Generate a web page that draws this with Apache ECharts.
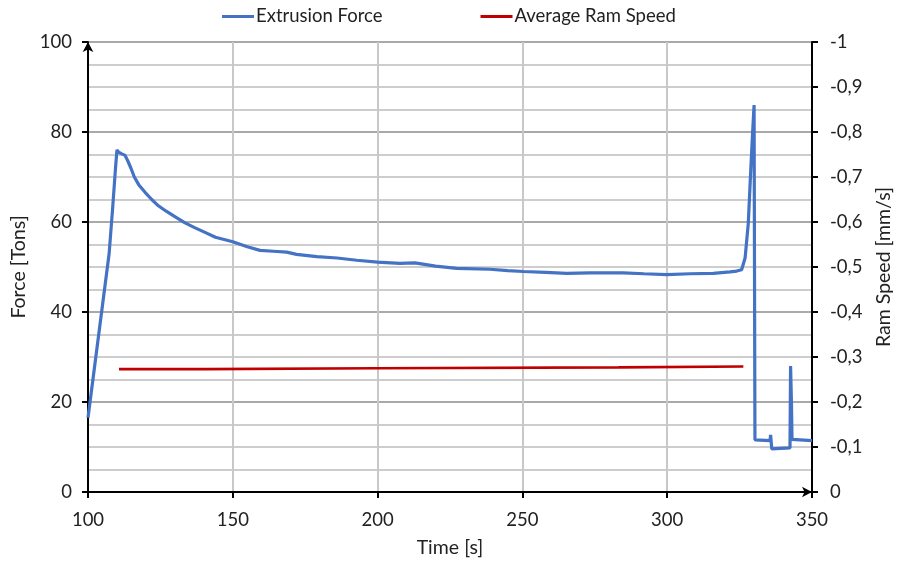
<!DOCTYPE html>
<html>
<head>
<meta charset="utf-8">
<script src="https://cdn.jsdelivr.net/npm/echarts@6/dist/echarts.min.js"></script>
<style>
  html, body { margin: 0; padding: 0; background: #fff; }
  #chart { width: 897px; height: 567px; }
</style>
</head>
<body>
<div id="chart"></div>
<script>
// Extrusion force over time [s, Tons]
const forceTime = [
  100, 102, 104, 106, 107.3, 108.5, 109.5, 110.0, 110.6, 111.5, 112.8, 113.8, 114.8, 116,
  117.5, 119.7, 122, 124.3, 127, 130, 133.5, 137, 140.4, 144, 150, 155, 159.4, 164,
  168.6, 172, 179, 186, 192.8, 200, 207.7, 212.9, 220, 227.3, 238.8, 245, 250.3, 258,
  265.3, 273.3, 284.8, 292, 299.8, 308, 315.9, 321.7, 324, 325.7, 326.9, 328, 328.8,
  329.5, 330.0, 330.3, 335.5, 335.7, 335.8, 336.1, 342.4, 342.6, 342.9, 343.1, 350
];
const force = [
  16.5, 26.5, 36.5, 46.5, 53, 63, 72, 76.0, 75.5, 75.2, 74.8, 73.5, 72, 70,
  68.3, 66.6, 65, 63.6, 62.4, 61.2, 59.8, 58.7, 57.7, 56.6, 55.6, 54.5, 53.7, 53.5,
  53.3, 52.8, 52.3, 52, 51.5, 51.1, 50.8, 50.9, 50.2, 49.7, 49.5, 49.2, 49.0, 48.8,
  48.6, 48.7, 48.7, 48.5, 48.3, 48.5, 48.6, 48.9, 49.1, 49.4, 52, 59.7, 70.8,
  80, 86, 11.6, 11.4, 12.7, 12.0, 9.6, 9.8, 28, 20, 11.7, 11.4
];

// Average ram speed per stroke segment [s, mm/s]
const speedTime = [110.7, 140.4, 140.4, 199.7, 199.7, 283.2, 283.2, 326.3];
const speed = [-0.273, -0.273, -0.275, -0.275, -0.277, -0.277, -0.279, -0.279];

// Axis ticks
const timeTicks = { min: 100, max: 350, step: 50 };
const forceTicks = { min: 0, max: 100, step: 20 };
const speedTicks = { min: -1, max: 0, step: 0.1 };

const FONT = 'Lato';
const TEXT = '#222';
const LABEL_SIZE = 18.5;
const NAME_SIZE = 19.5;

const zip = (xs, ys) => xs.map((x, i) => [x, ys[i]]);

const chart = echarts.init(document.getElementById('chart'), null, { renderer: 'canvas' });

chart.setOption({
  animation: false,
  backgroundColor: '#fff',
  textStyle: { fontFamily: FONT, color: TEXT },
  grid: { left: 88, right: 85, top: 42, bottom: 75, containLabel: false, outerBoundsMode: 'none' },
  legend: {
    top: 2,
    left: 217,
    icon: 'rect',
    itemWidth: 32,
    itemHeight: 3,
    itemGap: 98,
    textStyle: { fontFamily: FONT, fontSize: LABEL_SIZE, color: TEXT, padding: [0, 0, 0, -3] },
    data: ['Extrusion Force', 'Average Ram Speed']
  },
  xAxis: {
    type: 'value',
    min: timeTicks.min,
    max: timeTicks.max,
    interval: timeTicks.step,
    name: 'Time [s]',
    nameLocation: 'middle',
    nameGap: 46,
    nameTextStyle: { fontFamily: FONT, fontSize: NAME_SIZE, color: TEXT },
    axisLine: {
      show: true,
      onZero: false,
      symbol: ['none', 'arrow'],
      symbolSize: [8, 10],
      lineStyle: { color: '#000', width: 2 }
    },
    axisTick: { show: true, inside: false, length: 6, lineStyle: { color: '#000', width: 2 } },
    axisLabel: { fontFamily: FONT, fontSize: LABEL_SIZE, color: TEXT, margin: 19 },
    splitLine: { show: true, lineStyle: { color: '#c8c8c8', width: 2 } }
  },
  yAxis: [
    {
      type: 'value',
      position: 'left',
      min: forceTicks.min,
      max: forceTicks.max,
      interval: forceTicks.step,
      name: 'Force [Tons]',
      nameLocation: 'middle',
      nameGap: 56,
      nameRotate: 90,
      nameTextStyle: { fontFamily: FONT, fontSize: NAME_SIZE, color: TEXT },
      axisLine: {
        show: true,
        onZero: false,
        symbol: ['none', 'arrow'],
        symbolSize: [8, 10],
        lineStyle: { color: '#000', width: 2 }
      },
      axisTick: { show: true, inside: false, length: 6, lineStyle: { color: '#000', width: 2 } },
      axisLabel: { fontFamily: FONT, fontSize: LABEL_SIZE, color: TEXT, margin: 16 },
      splitLine: { show: true, lineStyle: { color: '#8c8c8c', width: 1.5 } },
      minorTick: { show: true, splitNumber: 4, length: 0, lineStyle: { opacity: 0 } },
      minorSplitLine: { show: true, lineStyle: { color: '#bdbdbd', width: 1.5 } }
    },
    {
      type: 'value',
      position: 'right',
      inverse: true,
      min: speedTicks.min,
      max: speedTicks.max,
      interval: speedTicks.step,
      name: 'Ram Speed [mm/s]',
      nameLocation: 'middle',
      nameGap: 60,
      nameRotate: 90,
      nameTextStyle: { fontFamily: FONT, fontSize: NAME_SIZE, color: TEXT },
      axisLine: { show: true, onZero: false, lineStyle: { color: '#000', width: 2 } },
      axisTick: { show: true, inside: false, length: 6, lineStyle: { color: '#000', width: 2 } },
      axisLabel: {
        fontFamily: FONT, fontSize: LABEL_SIZE, color: TEXT, margin: 18,
        formatter: v => {
          const r = Math.round(v * 10) / 10;
          return r === 0 ? '0' : String(r).replace('.', ',');
        }
      },
      splitLine: { show: false }
    }
  ],
  series: [
    {
      name: 'Extrusion Force',
      type: 'line',
      yAxisIndex: 0,
      showSymbol: false,
      symbol: 'none',
      smooth: false,
      clip: true,
      lineStyle: { color: '#4472c4', width: 3.2 },
      itemStyle: { color: '#4472c4' },
      data: zip(forceTime, force),
      z: 3
    },
    {
      name: 'Average Ram Speed',
      type: 'line',
      yAxisIndex: 1,
      showSymbol: false,
      symbol: 'none',
      lineStyle: { color: '#c00000', width: 2.6 },
      itemStyle: { color: '#c00000' },
      data: zip(speedTime, speed),
      z: 2
    }
  ]
});
</script>
</body>
</html>
